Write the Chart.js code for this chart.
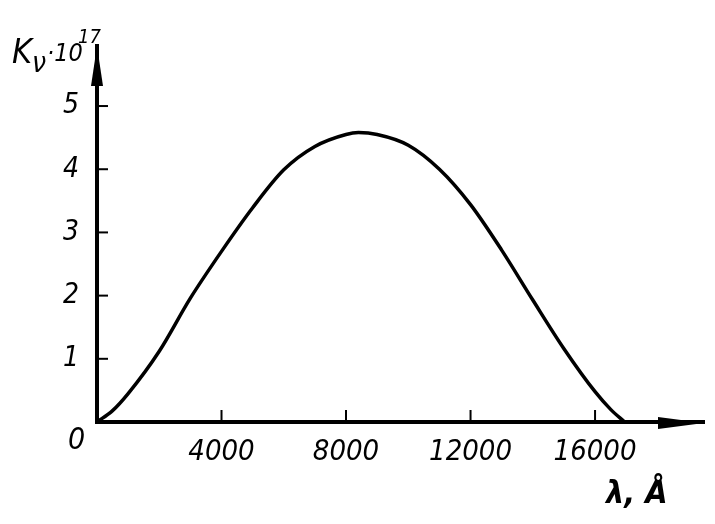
<!DOCTYPE html>
<html>
<head>
<meta charset="utf-8">
<script src="https://cdn.jsdelivr.net/npm/chart.js@4/dist/chart.umd.min.js"></script>
<style>
html,body{margin:0;padding:0;background:#fff;}
canvas{display:block;}
</style>
</head>
<body>
<canvas id="c" width="715" height="524"></canvas>
<script>
// Wavelength (Å) and K_nu * 10^17
const LAMBDA = [0, 500, 1000, 2000, 3000, 4000, 5000, 6000, 7000, 8000, 8400, 9000, 10000, 11000, 12000, 13000, 14000, 15000, 16000, 16500, 16950];
const KNU    = [0, 0.18, 0.45, 1.12, 1.96, 2.70, 3.39, 3.99, 4.36, 4.55, 4.58, 4.55, 4.38, 4.00, 3.44, 2.72, 1.93, 1.16, 0.48, 0.20, 0];
const X_TICKS = [4000, 8000, 12000, 16000];
const Y_TICKS = [1, 2, 3, 4, 5];
const X_MAX = 19500;
const Y_MAX = 5.95;

const FONT = "'Liberation Sans Narrow', 'DejaVu Sans Condensed', 'Liberation Sans', sans-serif";

const axesDecor = {
  id: 'axesDecor',
  afterDraw(chart) {
    const ctx = chart.ctx;
    const xs = chart.scales.x, ys = chart.scales.y;
    const x0 = xs.getPixelForValue(0), y0 = ys.getPixelForValue(0);
    const top = chart.chartArea.top, right = chart.chartArea.right;
    ctx.save();
    ctx.fillStyle = '#000';
    ctx.strokeStyle = '#000';
    // tick marks drawn inward
    ctx.lineWidth = 2;
    Y_TICKS.forEach(v => {
      const p = ys.getPixelForValue(v);
      ctx.beginPath(); ctx.moveTo(x0, p); ctx.lineTo(x0 + 11, p); ctx.stroke();
    });
    X_TICKS.forEach(v => {
      const p = xs.getPixelForValue(v);
      ctx.beginPath(); ctx.moveTo(p, y0); ctx.lineTo(p, y0 - 12); ctx.stroke();
    });
    // arrow heads
    ctx.beginPath();
    ctx.moveTo(x0, top);
    ctx.lineTo(x0 - 6, top + 40);
    ctx.lineTo(x0 + 6, top + 40);
    ctx.closePath(); ctx.fill();
    ctx.beginPath();
    ctx.moveTo(right, y0 + 1);
    ctx.lineTo(right - 46, y0 - 5);
    ctx.lineTo(right - 46, y0 + 7);
    ctx.closePath(); ctx.fill();
    // origin label
    ctx.font = "italic 30px " + FONT;
    ctx.textAlign = 'left'; ctx.textBaseline = 'alphabetic';
    ctx.fillText('0', 68, 449);
    // y title: K_ν · 10^17
    ctx.font = "italic 34px " + FONT;
    ctx.fillText('K', 12, 63);
    ctx.font = "italic 28px " + FONT;
    ctx.fillText('\u03BD', 32, 72);
    ctx.font = "italic 25px " + FONT;
    ctx.fillText('\u00B710', 47, 61);
    ctx.font = "italic 20px " + FONT;
    ctx.fillText('17', 78, 43);
    // x title
    ctx.font = "italic bold 32px " + FONT;
    ctx.fillText('\u03BB, \u00C5', 606, 503);
    ctx.restore();
  }
};

new Chart(document.getElementById('c'), {
  type: 'line',
  data: {
    datasets: [{
      data: LAMBDA.map((x, i) => ({x: x, y: KNU[i]})),
      borderColor: '#000',
      borderWidth: 3.5,
      pointRadius: 0,
      fill: false,
      cubicInterpolationMode: 'monotone'
    }]
  },
  options: {
    responsive: false,
    animation: false,
    devicePixelRatio: 1,
    layout: {padding: {left: 0, top: 46, right: 11, bottom: 0}},
    plugins: {legend: {display: false}, tooltip: {enabled: false}},
    scales: {
      x: {
        type: 'linear', min: 0, max: X_MAX,
        afterBuildTicks: s => { s.ticks = X_TICKS.map(v => ({value: v})); },
        afterFit: s => { s.height = 102; },
        grid: {display: false, drawTicks: false},
        border: {display: true, color: '#000', width: 4},
        ticks: {
          color: '#000', padding: 13, maxRotation: 0,
          font: {family: FONT, size: 29, style: 'italic'},
          callback: v => String(v)
        }
      },
      y: {
        type: 'linear', min: 0, max: Y_MAX,
        afterBuildTicks: s => { s.ticks = Y_TICKS.map(v => ({value: v})); },
        afterFit: s => { s.width = 97; },
        grid: {display: false, drawTicks: false},
        border: {display: true, color: '#000', width: 4},
        ticks: {
          color: '#000', padding: 18,
          font: {family: FONT, size: 28, style: 'italic'},
          callback: v => String(v)
        }
      }
    }
  },
  plugins: [axesDecor]
});
</script>
</body>
</html>
